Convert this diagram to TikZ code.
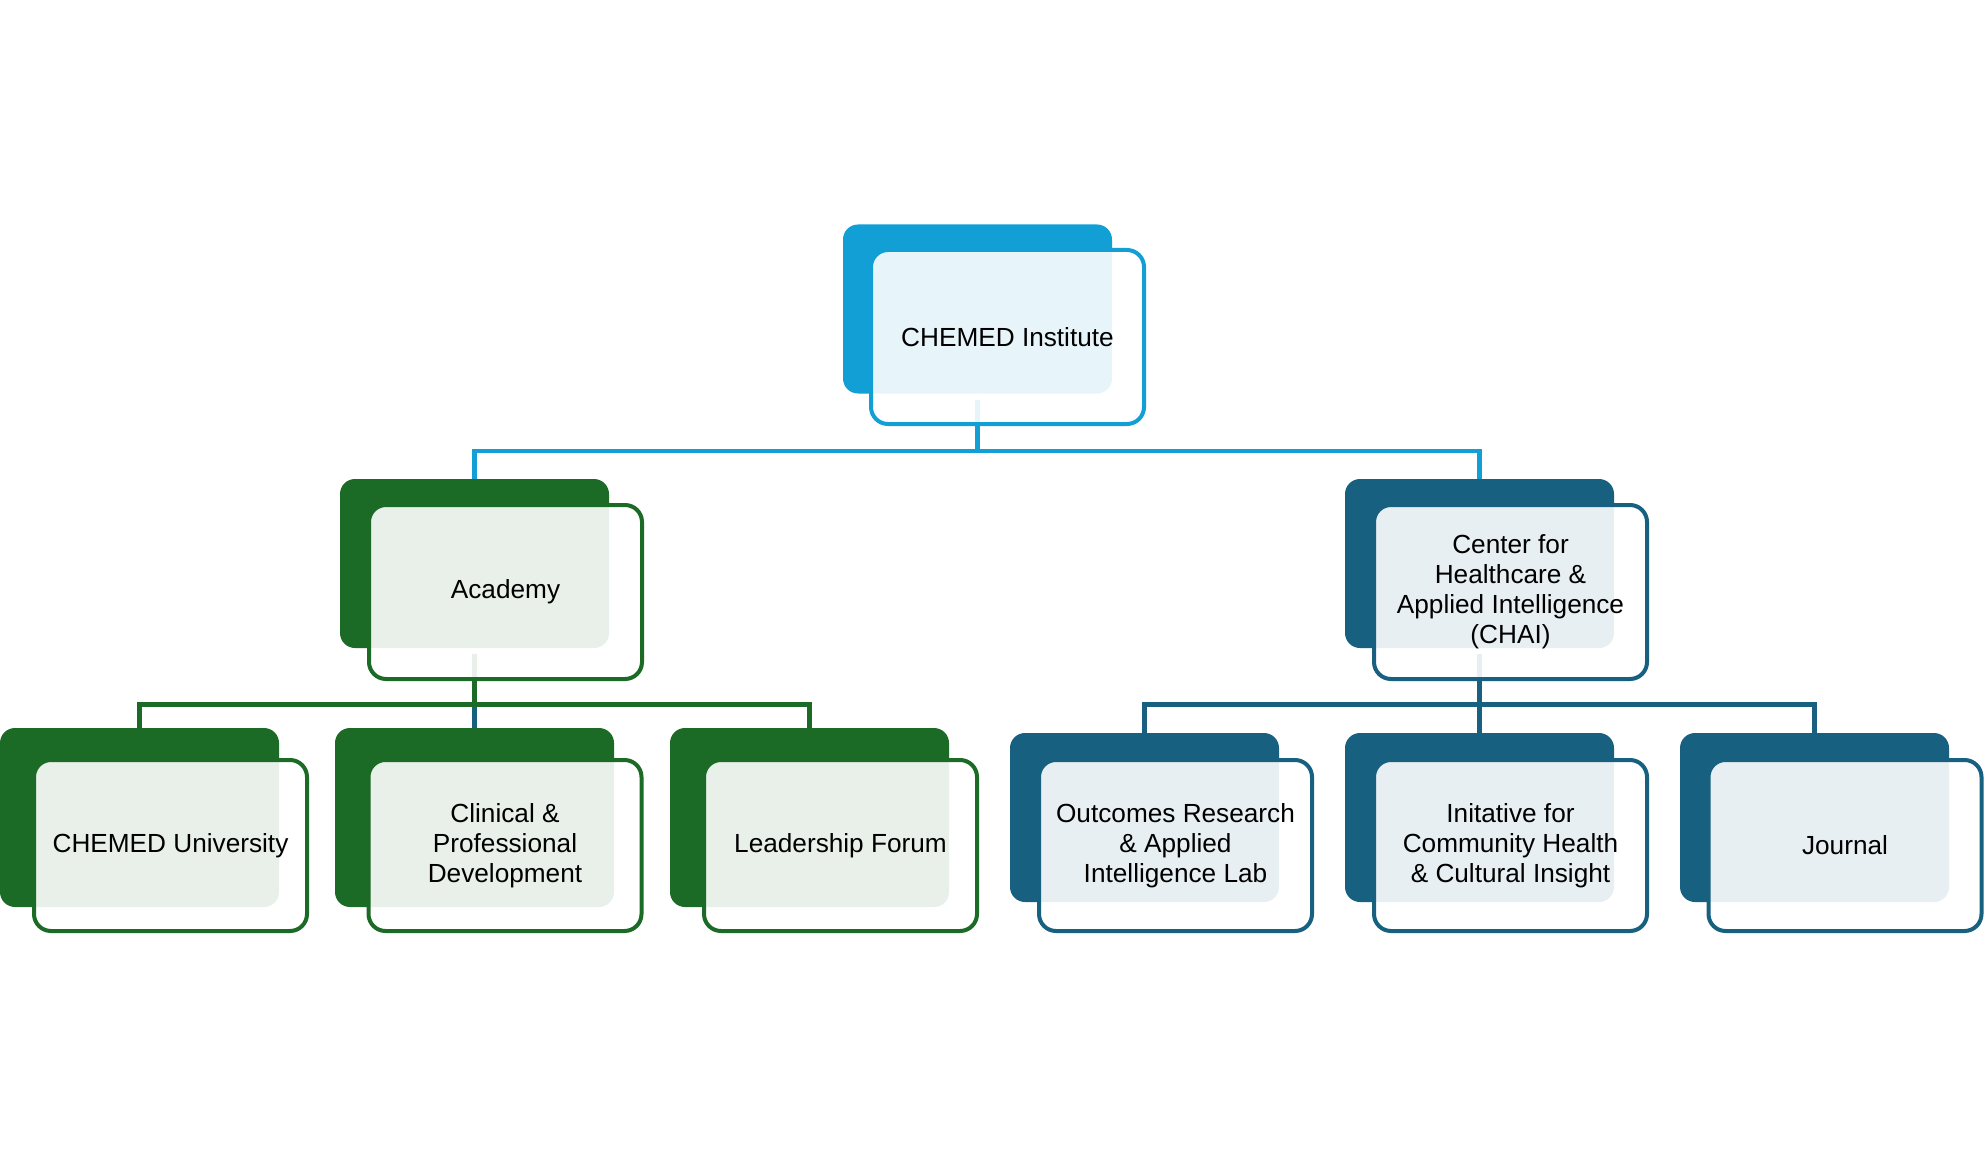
\documentclass[tikz,border=0pt]{standalone}
\usepackage{fontspec}
\setmainfont{Liberation Sans}
\definecolor{blueA}{RGB}{17,159,214}
\definecolor{greenA}{RGB}{27,106,37}
\definecolor{tealA}{RGB}{23,96,128}
\begin{document}
\begin{tikzpicture}[x=1pt,y=-1pt,
  darkbox/.style={fill=#1, draw=none, rounded corners=15pt, inner sep=0pt,
    minimum width=269pt, minimum height=169pt},
  bigdark/.style={darkbox=#1, minimum width=279pt, minimum height=179pt},
  outbox/.style={draw=#1, line width=4pt, fill=white, fill opacity=0.9, text opacity=1,
    rounded corners=17pt, inner sep=0pt, minimum width=273pt, minimum height=171pt,
    align=center, text=black, font=\fontsize{26.2}{30}\selectfont},
  topout/.style={outbox=#1, minimum height=174pt},
  conn/.style={draw=#1, line width=4.5pt}]
\useasboundingbox (0,0) rectangle (1985,1155);
\fill[white] (0,0) rectangle (1985,1155);

% dark back rectangles
\node[darkbox=blueA] (topD) at (977.5,309) {};
\node[darkbox=greenA] (acadD) at (474.5,563.5) {};
\node[darkbox=tealA] (chaiD) at (1479.5,563.5) {};
\node[bigdark=greenA] (univD) at (139.5,817.5) {};
\node[bigdark=greenA] (clinD) at (474.5,817.5) {};
\node[bigdark=greenA] (leadD) at (809.5,817.5) {};
\node[darkbox=tealA] (outcD) at (1144.5,817.5) {};
\node[darkbox=tealA] (initD) at (1479.5,817.5) {};
\node[darkbox=tealA] (journD) at (1814.5,817.5) {};

% connectors
\coordinate (barT) at (977.5,451);
\coordinate (barA) at (474.5,704.5);
\coordinate (barC) at (1479.5,704.5);
\draw[conn=blueA] ([yshift=-6pt]topD.south) -- (barT);
\draw[conn=blueA] (acadD.north) |- (barT) -| (chaiD.north);
\draw[conn=tealA] (barA) -- (clinD.north);
\draw[conn=greenA] ([yshift=-6pt]acadD.south) -- (barA);
\draw[conn=greenA] (univD.north) |- (barA) -| (leadD.north);
\draw[conn=tealA] ([yshift=-6pt]chaiD.south) -- (barC);
\draw[conn=tealA] (barC) -- (initD.north);
\draw[conn=tealA] (outcD.north) |- (barC) -| (journD.north);

% front outlined boxes
\node[topout=blueA] (top) at (1007.5,337) {CHEMED Institute};
\node[topout=greenA] (acad) at (505.5,592) {Academy};
\node[topout=tealA] (chai) at (1510.5,592) {Center for\\Healthcare \&\\Applied Intelligence\\(CHAI)};
\node[outbox=greenA] (univ) at (170.5,845.5) {CHEMED University};
\node[outbox=greenA] (clin) at (505,845.5) {Clinical \&\\Professional\\Development};
\node[outbox=greenA] (lead) at (840.5,845.5) {Leadership Forum};
\node[outbox=tealA] (outc) at (1175.5,845.5) {Outcomes Research\\\& Applied\\Intelligence Lab};
\node[outbox=tealA] (init) at (1510.5,845.5) {Initative for\\Community Health\\\& Cultural Insight};
\node[outbox=tealA] (journ) at (1845,845.5) {Journal};
\end{tikzpicture}
\end{document}
